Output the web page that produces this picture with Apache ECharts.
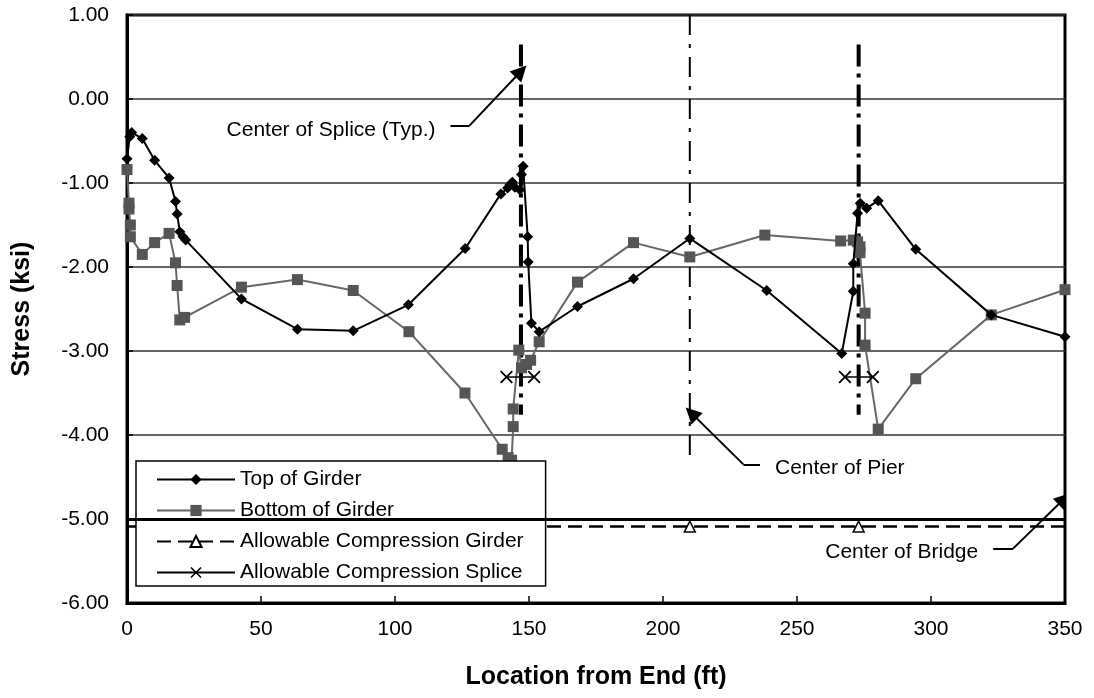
<!DOCTYPE html>
<html><head><meta charset="utf-8">
<script src="https://cdn.jsdelivr.net/npm/echarts@6/dist/echarts.min.js"></script>
<style>html,body{margin:0;padding:0;background:#fff}#c{width:1094px;height:698px}</style>
</head><body><div id="c"></div>
<script>
// ---- data ----
const topX = [0,1.0,1.75,5.7,10.3,15.7,18.1,18.7,19.7,20.9,21.9,42.7,63.6,84.4,105.0,126.2,139.5,142.0,142.9,143.8,144.7,146.6,147.2,147.8,149.5,149.7,150.9,153.8,168.1,189.0,210.0,238.7,266.7,271.0,271.0,272.6,273.6,276.0,280.3,294.3,322.5,350];
const topY = [-0.71,-0.45,-0.40,-0.47,-0.73,-0.94,-1.22,-1.37,-1.58,-1.64,-1.68,-2.38,-2.74,-2.76,-2.45,-1.78,-1.13,-1.06,-1.02,-0.99,-1.05,-1.08,-0.90,-0.80,-1.64,-1.94,-2.67,-2.77,-2.47,-2.14,-1.66,-2.28,-3.03,-2.29,-1.96,-1.36,-1.24,-1.30,-1.21,-1.79,-2.57,-2.83];
const botX = [0,0.75,0.75,1.25,1.25,5.7,10.3,15.7,18.1,18.7,19.7,21.5,42.7,63.6,84.4,105.2,126.1,140.0,142.2,143.5,144.1,144.1,146.2,147.2,149.1,150.6,153.8,168.1,189.0,210.0,238.0,266.3,271.0,272.6,273.5,273.5,275.4,275.4,280.3,294.3,322.5,350];
const botY = [-0.84,-1.24,-1.31,-1.50,-1.64,-1.85,-1.71,-1.60,-1.95,-2.22,-2.63,-2.60,-2.24,-2.15,-2.28,-2.77,-3.50,-4.17,-4.27,-4.30,-3.90,-3.69,-2.99,-3.20,-3.16,-3.11,-2.89,-2.18,-1.71,-1.88,-1.62,-1.69,-1.68,-1.70,-1.76,-1.83,-2.55,-2.93,-3.93,-3.33,-2.57,-2.27];
const girderX = [0,147,210,273,350];
const girderMarked = [false,true,true,true,false];
const girderAllow = -5.09;
const spliceX = [141.6,151.9,null,267.9,278.3];
const spliceAllow = -3.31;
const limitLine = -5.00;
const spliceCenters = [147,273];
const spliceTop = 0.65, spliceBottom = -3.76;
const pierCenter = 210, pierTop = 1.0, pierBottom = -4.25;
const annText = ['Center of Splice (Typ.)','Center of Pier','Center of Bridge'];
const annTip  = [[147,0.33],[210.6,-3.74],[349.7,-4.76]];
const annBend = [[127.7,-0.32],[230,-4.35],[330.7,-5.35]];
const annTail = [[120.7,-0.32],[236.2,-4.35],[323.2,-5.35]];
const annSide = ['left','right','left'];

// ---- chart ----
const FONT = 'Liberation Sans, Arial, sans-serif';
const xMark = 'path://M0,1L1,0L5,4L9,0L10,1L6,5L10,9L9,10L5,6L1,10L0,9L4,5Z';
const pair = (xs, ys) => xs.map((x,i)=>[x, ys[i]]);
const chart = echarts.init(document.getElementById('c'), null, {renderer:'canvas'});

const vertSeries = [];
spliceCenters.forEach(x => vertSeries.push({
  type:'line', silent:true, symbol:'none', z:1,
  data:[[x,spliceTop],[x,spliceBottom]],
  lineStyle:{color:'#000', width:4, type:[22,7,4,7]}
}));
vertSeries.push({
  type:'line', silent:true, symbol:'none', z:1,
  data:[[pierCenter,pierTop],[pierCenter,pierBottom]],
  lineStyle:{color:'#000', width:2, type:[20,9,4,9]}
});

const option = {
  animation:false,
  backgroundColor:'#fff',
  textStyle:{fontFamily:FONT},
  grid:{left:127, right:29, top:15, bottom:95, show:true, borderColor:'#000', borderWidth:3, containLabel:false},
  xAxis:{type:'value', min:0, max:350, interval:50,
    name:'Location from End (ft)', nameLocation:'middle', nameGap:62,
    nameTextStyle:{fontSize:25, fontWeight:'bold', color:'#000', fontFamily:FONT},
    axisLine:{onZero:false, lineStyle:{color:'#000', width:3}},
    axisTick:{inside:true, length:7, lineStyle:{color:'#000', width:1.5}},
    axisLabel:{fontSize:21, color:'#000', margin:16, fontFamily:FONT},
    splitLine:{show:false}},
  yAxis:{type:'value', min:-6, max:1, interval:1,
    name:'Stress (ksi)', nameLocation:'middle', nameGap:92,
    nameTextStyle:{fontSize:25, fontWeight:'bold', color:'#000', fontFamily:FONT},
    axisLine:{show:true, onZero:false, lineStyle:{color:'#000', width:3}},
    axisTick:{show:true, inside:true, length:6, lineStyle:{color:'#000', width:1.5}},
    axisLabel:{fontSize:21, color:'#000', margin:18, fontFamily:FONT, formatter:v=>v.toFixed(2)},
    splitLine:{show:true, lineStyle:{color:'#333', width:1.5}}},
  legend:{
    orient:'vertical', left:136, top:461,
    padding:[8,22,3,20], itemGap:10, itemWidth:78, itemHeight:14,
    backgroundColor:'#fff', borderColor:'#000', borderWidth:1.5, borderRadius:0,
    textStyle:{fontSize:21, color:'#000', fontFamily:FONT},
    data:['Top of Girder','Bottom of Girder','Allowable Compression Girder','Allowable Compression Splice']
  },
  series:[
    ...vertSeries,
    {name:'Top of Girder', type:'line', data:pair(topX, topY), z:4,
      symbol:'diamond', symbolSize:11, showAllSymbol:true,
      lineStyle:{color:'#000', width:2}, itemStyle:{color:'#000'}},
    {name:'Bottom of Girder', type:'line', data:pair(botX, botY), z:3,
      symbol:'rect', symbolSize:11, showAllSymbol:true,
      lineStyle:{color:'#666', width:2}, itemStyle:{color:'#555'}},
    {name:'Allowable Compression Girder', type:'line', z:3,
      data:girderX.map((x,i)=>({value:[x, girderAllow], symbol: girderMarked[i] ? 'triangle' : 'none'})),
      symbol:'triangle', symbolSize:11, showAllSymbol:true,
      lineStyle:{color:'#000', width:2.5, type:[14,7]},
      itemStyle:{color:'#fff', borderColor:'#000', borderWidth:1.5},
      markLine:{silent:true, symbol:'none', label:{show:false},
        lineStyle:{color:'#000', width:3, type:'solid'},
        data:[{yAxis:limitLine}]}},
    {name:'Allowable Compression Splice', type:'line', z:3,
      data:spliceX.map(x => x===null ? '-' : [x, spliceAllow]),
      connectNulls:false, symbol:xMark, symbolSize:13, showAllSymbol:true,
      lineStyle:{color:'#000', width:1.5}, itemStyle:{color:'#000'}},
    {type:'lines', coordinateSystem:'cartesian2d', silent:true, z:5,
      data:annTail.map((t,i)=>({coords:[t, annBend[i]]})),
      symbol:['none','none'],
      lineStyle:{color:'#000', width:2, opacity:1, curveness:0}},
    {type:'lines', coordinateSystem:'cartesian2d', silent:true, z:5,
      data:annBend.map((b,i)=>({coords:[b, annTip[i]]})),
      symbol:['none','triangle'], symbolSize:[1,16],
      lineStyle:{color:'#000', width:2, opacity:1, curveness:0}}
  ]
};
chart.setOption(option);

// annotation texts anchored to data coordinates
const texts = annTail.map((t,i) => {
  const p = chart.convertToPixel({gridIndex:0}, t);
  const left = annSide[i] === 'left';
  return {type:'text', z:100, silent:true,
    x: p[0] + (left ? -15 : 15), y: p[1] + 4,
    style:{text:annText[i], fill:'#000', font:'21px ' + FONT,
      align: left ? 'right' : 'left', verticalAlign:'middle'}};
});
chart.setOption({graphic:{elements:texts}});
</script>
</body></html>
